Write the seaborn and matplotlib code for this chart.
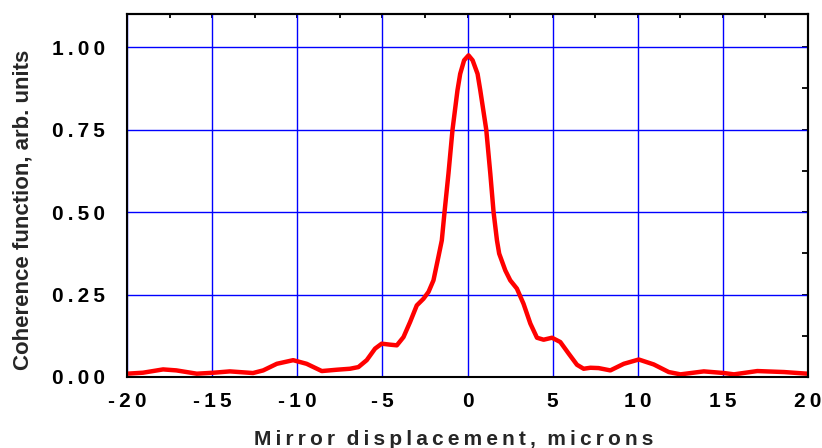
import numpy as np
import matplotlib
matplotlib.use("Agg")
import matplotlib.pyplot as plt
import seaborn as sns
import pandas as pd
from matplotlib.ticker import MultipleLocator, FuncFormatter, NullFormatter

# values
displacement = [-20.0, -19.06, -17.88, -17.1, -15.9, -14.9, -13.96, -12.6, -12.0, -11.2,
                -10.24, -9.45, -8.56, -7.68, -6.9, -6.41, -5.92, -5.43, -5.04, -4.55,
                -4.15, -3.76, -3.37, -2.98, -2.59, -2.29, -2.0, -1.71, -1.51, -1.35,
                -1.12, -0.88, -0.59, -0.43, -0.2, 0.06, 0.3, 0.59, 0.75, 1.10,
                1.34, 1.53, 1.73, 1.86, 2.22, 2.51, 2.9, 3.29, 3.69, 4.08,
                4.47, 4.96, 5.45, 5.94, 6.43, 6.82, 7.22, 7.7, 8.39, 9.18,
                10.06, 10.94, 11.82, 12.51, 13.88, 15.06, 15.65, 17.02, 18.59, 19.96]
coherence = [0.010, 0.013, 0.023, 0.020, 0.010, 0.013, 0.017, 0.012, 0.020, 0.040,
             0.051, 0.040, 0.018, 0.022, 0.025, 0.030, 0.051, 0.086, 0.101, 0.098,
             0.096, 0.121, 0.167, 0.217, 0.237, 0.258, 0.293, 0.364, 0.414, 0.500,
             0.616, 0.750, 0.869, 0.919, 0.960, 0.975, 0.960, 0.919, 0.869, 0.750,
             0.616, 0.500, 0.414, 0.374, 0.323, 0.293, 0.268, 0.222, 0.162, 0.119,
             0.113, 0.119, 0.106, 0.071, 0.037, 0.025, 0.028, 0.027, 0.020, 0.040,
             0.053, 0.038, 0.015, 0.008, 0.017, 0.012, 0.008, 0.018, 0.015, 0.010]

df = pd.DataFrame({"x": displacement, "y": coherence})

sns.set_style("white")
plt.rcParams['font.family'] = ['Liberation Sans', 'DejaVu Sans']

fig = plt.figure(figsize=(8.22, 4.48), dpi=100)
ax = fig.add_axes([0.1545, 0.1585, 0.8285, 0.81])

ax.grid(True, which="major", color="blue", linewidth=1)
sns.lineplot(data=df, x="x", y="y", ax=ax, color="red", linewidth=3.2)

ax.set_xlim(-20, 20)
ax.set_ylim(0, 1.1)
ax.xaxis.set_major_locator(MultipleLocator(5))
ax.xaxis.set_minor_locator(MultipleLocator(2.5))
ax.yaxis.set_major_locator(MultipleLocator(0.25))
ax.yaxis.set_minor_locator(MultipleLocator(0.125))

sp = "\u2009"
def spaced(s):
    return sp.join(s)

ax.xaxis.set_major_formatter(FuncFormatter(lambda v, p: spaced("%d" % round(v))))
ax.yaxis.set_major_formatter(FuncFormatter(lambda v, p: spaced("%.2f" % v)))

ax.tick_params(axis="both", which="both", direction="out", colors="black",
               labelsize=15, width=1.3)
ax.tick_params(axis="x", which="both", length=4, pad=7)
ax.tick_params(axis="y", which="major", length=10, pad=6)
ax.tick_params(axis="y", which="minor", length=5)
for lab in ax.get_xticklabels() + ax.get_yticklabels():
    lab.set_fontweight("bold")

# inward ticks on top and right
top = ax.secondary_xaxis("top")
top.xaxis.set_major_locator(MultipleLocator(2.5))
top.xaxis.set_major_formatter(NullFormatter())
top.tick_params(direction="in", length=3, width=1.3, colors="black")
right = ax.secondary_yaxis("right")
right.yaxis.set_major_locator(MultipleLocator(0.125))
right.yaxis.set_major_formatter(NullFormatter())
right.tick_params(direction="in", length=4, width=1.3, colors="black")

for s in ax.spines.values():
    s.set_color("black")
    s.set_linewidth(1.5)
for a in (top, right):
    for s in a.spines.values():
        s.set_color("black")
        s.set_linewidth(1.5)

ax.set_xlabel(spaced("Mirror displacement, microns").replace(sp + " " + sp, "  "),
              fontsize=15, fontweight="bold", labelpad=10)
ax.xaxis.set_label_coords(0.48, -0.145)
ax.set_ylabel("Coherence function, arb. units", fontsize=16, fontweight="bold")
ax.yaxis.set_label_coords(-0.138, 0.46)

fig.savefig("out.png", dpi=100)
